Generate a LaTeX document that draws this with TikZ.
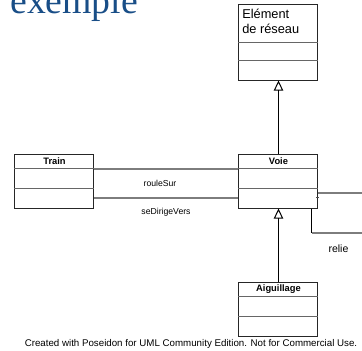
\documentclass[tikz,border=0pt]{standalone}
\usepackage{fontspec}
\setmainfont{Liberation Serif}
\setsansfont{Liberation Sans}
\usetikzlibrary{arrows.meta}
\definecolor{titleblue}{RGB}{25,78,135}
\definecolor{assocgrey}{RGB}{125,125,125}
\tikzset{
  classbox/.style={draw=black!85, line width=0.75pt, minimum width=59.25pt, inner sep=0pt},
  classname/.style={font=\sffamily\bfseries\fontsize{7}{8}\selectfont, inner sep=0pt},
  compart/.style={draw=black!60, line width=0.75pt},
  assoc/.style={draw=assocgrey, line width=1.1pt},
  gen/.style={draw=black, line width=0.75pt, -{Triangle[open,length=7.5pt,width=7pt]}},
  assoclabel/.style={font=\sffamily\fontsize{6.5}{8}\selectfont, inner sep=0pt}
}
\begin{document}
\begin{tikzpicture}[x=0.75pt,y=-0.75pt]
  \useasboundingbox (0,0) rectangle (362,351);
  \clip (0,0) rectangle (362,351);
  \node[anchor=base west, inner sep=0pt, text=titleblue, font=\fontsize{28.3}{30}\selectfont] (title) at (10,13) {exemple};

  % classes
  \node[classbox, minimum height=57pt] (elem) at (278.5,42) {};
  \draw[compart] (elem.west |- 0,42) -- (elem.east |- 0,42);
  \draw[compart] (elem.west |- 0,60) -- (elem.east |- 0,60);
  \node[anchor=north west, align=left, inner sep=0pt, font=\sffamily\fontsize{9.6}{11}\selectfont] (elemname) at (242,9) {Elément\\de réseau};

  \node[classbox, minimum height=40.5pt] (train) at (54.5,181) {};
  \draw[compart] (train.west |- 0,168) -- (train.east |- 0,168);
  \draw[compart] (train.west |- 0,188) -- (train.east |- 0,188);
  \node[classname] (trainname) at (54.5,161) {Train};

  \node[classbox, minimum height=40.5pt] (voie) at (278.5,181) {};
  \draw[compart] (voie.west |- 0,168) -- (voie.east |- 0,168);
  \draw[compart] (voie.west |- 0,188) -- (voie.east |- 0,188);
  \node[classname] (voiename) at (278.5,161) {Voie};

  \node[classbox, minimum height=40.5pt] (aig) at (278.5,309) {};
  \draw[compart] (aig.west |- 0,296) -- (aig.east |- 0,296);
  \draw[compart] (aig.west |- 0,316) -- (aig.east |- 0,316);
  \node[classname] (aigname) at (278.5,289) {Aiguillage};

  % generalisations
  \draw[gen] (voie.north) -- (elem.south);
  \draw[gen] (aig.north) -- (voie.south);

  % associations
  \draw[assoc] (train.east |- 0,169) -- (voie.west |- 0,169);
  \draw[assoc] (train.east |- 0,198) -- (voie.west |- 0,198);
  \node[assoclabel] (roulesur) at (160,183) {rouleSur};
  \node[assoclabel] (sedirige) at (166,212) {seDirigeVers};

  \coordinate (relieA) at (362,193);
  \coordinate (relieC) at (312,233);
  \coordinate (relieB) at (362,233);
  \draw[assoc] (voie.east |- relieA) -- (relieA);
  \draw[line width=0.75pt] (voie.south -| relieC) -- (relieC);
  \draw[assoc] (relieC) -- (relieB);
  \draw[line width=0.5pt, black!70] (316.5,197) -- (319.5,197);
  \node[font=\sffamily\fontsize{7.9}{9}\selectfont, inner sep=0pt] (relie) at (338.5,249) {relie};

  \node[font=\sffamily\fontsize{7.3}{8}\selectfont, inner sep=0pt] (footer) at (191,344) {Created with Poseidon for UML Community Edition. Not for Commercial Use.};
\end{tikzpicture}
\end{document}
